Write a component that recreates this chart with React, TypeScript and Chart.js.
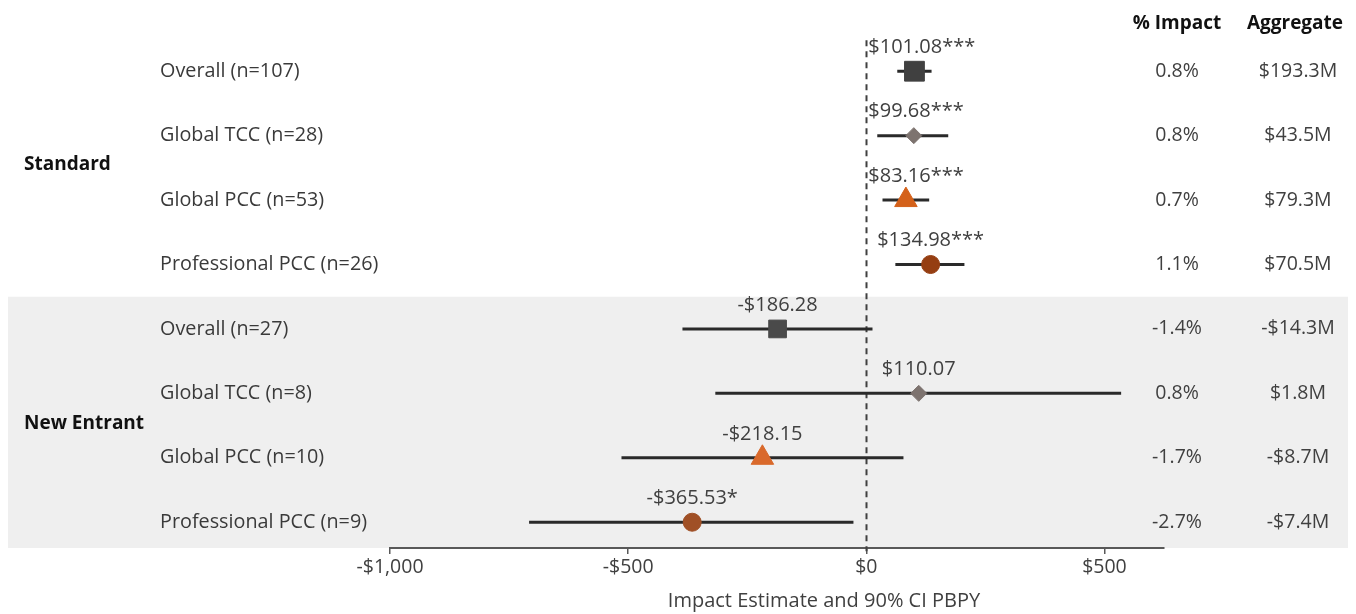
import React, { useEffect, useRef } from 'react';
import { Chart, registerables } from 'chart.js';

Chart.register(...registerables);

const groups = ['Standard', 'New Entrant'];
const categories = [
  'Overall (n=107)',
  'Global TCC (n=28)',
  'Global PCC (n=53)',
  'Professional PCC (n=26)',
  'Overall (n=27)',
  'Global TCC (n=8)',
  'Global PCC (n=10)',
  'Professional PCC (n=9)',
];
const estimates = [101.08, 99.68, 83.16, 134.98, -186.28, 110.07, -218.15, -365.53];
const ciLow = [65, 23, 34, 61, -386, -317, -514, -708];
const ciHigh = [137, 172, 132, 206, 13, 535, 78, -27];
const estimateLabels = [
  '$101.08***',
  '$99.68***',
  '$83.16***',
  '$134.98***',
  '-$186.28',
  '$110.07',
  '-$218.15',
  '-$365.53*',
];
const pctImpact = ['0.8%', '0.8%', '0.7%', '1.1%', '-1.4%', '0.8%', '-1.7%', '-2.7%'];
const aggregate = ['$193.3M', '$43.5M', '$79.3M', '$70.5M', '-$14.3M', '$1.8M', '-$8.7M', '-$7.4M'];
const tickValues = [-1000, -500, 0, 500];
const tickLabels = ['-$1,000', '-$500', '$0', '$500'];
const columnHeaders = ['% Impact', 'Aggregate'];
const axisTitle = 'Impact Estimate and 90% CI PBPY';

const FONT = "'Open Sans', Lato, sans-serif";

const markerStyles = ['rect', 'rectRot', 'triangle', 'circle'];
const markerRadiusStd = [14, 8, 13, 9];
const markerRadiusNE = [12.5, 8, 13, 9];
const markerColorStd = ['#404040', '#7d736f', '#d4611a', '#953e12'];
const markerColorNE = ['#4a4a4a', '#7d736f', '#d9692b', '#a05026'];

export default function App() {
  const ref = useRef<HTMLCanvasElement | null>(null);

  useEffect(() => {
    if (!ref.current) return;

    const datasets = markerStyles.map((style, k) => ({
      label: categories[k],
      data: [
        { x: estimates[k], y: k },
        { x: estimates[k + 4], y: k + 4 },
      ],
      pointStyle: style,
      pointRadius: [markerRadiusStd[k], markerRadiusNE[k]],
      pointBackgroundColor: [markerColorStd[k], markerColorNE[k]],
      pointBorderColor: [markerColorStd[k], markerColorNE[k]],
      pointBorderWidth: 1,
      showLine: false,
    }));

    const forestPlugin = {
      id: 'forest',
      beforeDraw(chart: any) {
        const { ctx, scales } = chart;
        const y = scales.y;
        const top = y.getPixelForValue(3.5);
        const bottom = y.getPixelForValue(7.4);
        ctx.save();
        ctx.fillStyle = '#efefef';
        ctx.fillRect(8, top, 1340, bottom - top);
        ctx.restore();
      },
      beforeDatasetsDraw(chart: any) {
        const { ctx, scales } = chart;
        const x = scales.x;
        const y = scales.y;
        ctx.save();
        const zx = Math.round(x.getPixelForValue(0)) + 0.5;
        ctx.strokeStyle = '#404040';
        ctx.lineWidth = 2;
        ctx.setLineDash([6, 5]);
        ctx.beginPath();
        ctx.moveTo(zx, y.getPixelForValue(-0.48));
        ctx.lineTo(zx, y.getPixelForValue(7.45));
        ctx.stroke();
        ctx.setLineDash([]);
        ctx.strokeStyle = '#2a2a2a';
        ctx.lineWidth = 3;
        for (let i = 0; i < categories.length; i++) {
          const py = y.getPixelForValue(i);
          ctx.beginPath();
          ctx.moveTo(x.getPixelForValue(ciLow[i]), py);
          ctx.lineTo(x.getPixelForValue(ciHigh[i]), py);
          ctx.stroke();
        }
        ctx.restore();
      },
      afterDraw(chart: any) {
        const { ctx, scales } = chart;
        const x = scales.x;
        const y = scales.y;
        const zx = x.getPixelForValue(0);
        ctx.save();
        ctx.textBaseline = 'middle';
        // estimate labels
        ctx.font = `20px ${FONT}`;
        ctx.fillStyle = '#404040';
        ctx.textAlign = 'left';
        for (let i = 0; i < categories.length; i++) {
          const px = x.getPixelForValue(estimates[i]);
          const py = y.getPixelForValue(i) - 24;
          const w = ctx.measureText(estimateLabels[i]).width;
          let left = px - w / 2;
          if (estimates[i] > 0 && i < 4) left = Math.max(left, zx + 2);
          ctx.fillText(estimateLabels[i], left, py);
        }
        // row labels
        ctx.font = `19.8px ${FONT}`;
        ctx.fillStyle = '#3a3a3a';
        for (let i = 0; i < categories.length; i++) {
          ctx.fillText(categories[i], 160, y.getPixelForValue(i));
        }
        // group labels
        ctx.font = `bold 19px ${FONT}`;
        ctx.fillStyle = '#111111';
        ctx.fillText(groups[0], 24, 165);
        ctx.fillText(groups[1], 24, 424);
        // table headers
        ctx.textAlign = 'center';
        ctx.fillText(columnHeaders[0], 1177, 24);
        ctx.fillText(columnHeaders[1], 1295, 24);
        // table values
        ctx.font = `19.5px ${FONT}`;
        ctx.fillStyle = '#404040';
        for (let i = 0; i < categories.length; i++) {
          const py = y.getPixelForValue(i);
          ctx.fillText(pctImpact[i], 1177, py);
          ctx.fillText(aggregate[i], 1298, py);
        }
        // axis title
        ctx.font = `20px ${FONT}`;
        ctx.fillText(axisTitle, 824, 601);
        ctx.restore();
      },
    };

    const chart = new Chart(ref.current, {
      type: 'scatter',
      data: { datasets: datasets as any },
      options: {
        animation: false,
        responsive: false,
        maintainAspectRatio: false,
        layout: { padding: { left: 390, right: 192, top: 39, bottom: 0 } },
        plugins: { legend: { display: false }, tooltip: { enabled: false } },
        scales: {
          x: {
            type: 'linear',
            min: -1000,
            max: 625,
            afterBuildTicks: (s: any) => {
              s.ticks = tickValues.map((v) => ({ value: v }));
            },
            afterFit: (s: any) => {
              s.height = 66;
            },
            ticks: {
              autoSkip: false,
              maxRotation: 0,
              padding: 2,
              color: '#404040',
              font: { family: FONT, size: 19.5 },
              callback: (v: any) => {
                const idx = tickValues.indexOf(Number(v));
                return idx >= 0 ? tickLabels[idx] : '';
              },
            },
            grid: {
              drawOnChartArea: false,
              drawTicks: true,
              tickLength: 6,
              color: '#595959',
              lineWidth: 1.5,
            },
            border: { display: true, color: '#595959', width: 2 },
            title: { display: false },
          },
          y: {
            type: 'linear',
            min: -0.5,
            max: 7.4,
            reverse: true,
            display: false,
          },
        },
      },
      plugins: [forestPlugin],
    });

    return () => chart.destroy();
  }, []);

  return (
    <div style={{ position: 'fixed', left: 0, top: 0, width: 1356, height: 614, background: '#ffffff' }}>
      <canvas ref={ref} width={1356} height={614} style={{ width: 1356, height: 614, display: 'block' }} />
    </div>
  );
}
